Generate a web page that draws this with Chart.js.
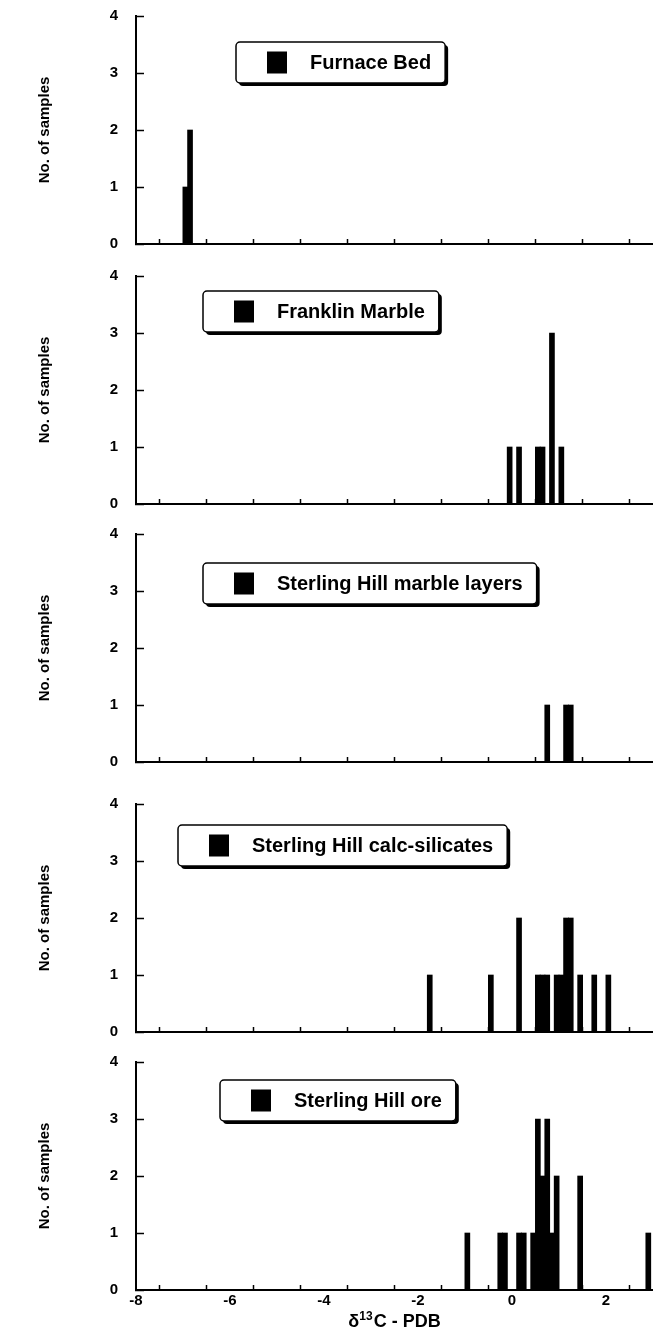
<!DOCTYPE html>
<html>
<head>
<meta charset="utf-8">
<title>d13C histograms</title>
<script src="https://cdn.jsdelivr.net/npm/chart.js@4.4.1/dist/chart.umd.min.js"></script>
<style>
  html, body { margin: 0; padding: 0; background: #fff; }
  body { width: 653px; height: 1341px; position: relative; overflow: hidden; }
  .panel { position: absolute; left: 0; width: 653px; }
</style>
</head>
<body>
<div class="panel" id="p0"><canvas id="c0"></canvas></div>
<div class="panel" id="p1"><canvas id="c1"></canvas></div>
<div class="panel" id="p2"><canvas id="c2"></canvas></div>
<div class="panel" id="p3"><canvas id="c3"></canvas></div>
<div class="panel" id="p4"><canvas id="c4"></canvas></div>
<script>
// Bin centres (0.1 permil bins) and number of samples per bin
const furnaceBins = [-6.95, -6.85];
const furnaceCounts = [1, 2];
const franklinBins = [-0.05, 0.15, 0.55, 0.65, 0.85, 1.05];
const franklinCounts = [1, 1, 1, 1, 3, 1];
const marbleBins = [0.75, 1.15, 1.25];
const marbleCounts = [1, 1, 1];
const calcBins = [-1.75, -0.45, 0.15, 0.55, 0.65, 0.75, 0.95, 1.05, 1.15, 1.25, 1.45, 1.75, 2.05];
const calcCounts = [1, 1, 2, 1, 1, 1, 1, 1, 2, 2, 1, 1, 1];
const oreBins = [-0.95, -0.25, -0.15, 0.15, 0.25, 0.45, 0.55, 0.65, 0.75, 0.85, 0.95, 1.45, 2.9];
const oreCounts = [1, 1, 1, 1, 1, 1, 3, 2, 3, 1, 2, 2, 1];

const panelNames = ['Furnace Bed', 'Franklin Marble', 'Sterling Hill marble layers',
    'Sterling Hill calc-silicates', 'Sterling Hill ore'];
const xTickLabels = ['-8', '-6', '-4', '-2', '0', '2'];
const yTickLabels = ['0', '1', '2', '3', '4'];
const yTitle = 'No. of samples';
const xTitle = ['δ', '13', 'C - PDB'];   // base, superscript, rest

// Layout (page pixels): top / bottom of each plot area, legend box offsets
const areaTop = [16, 276, 534, 804, 1062];
const areaBottom = [244, 504, 762, 1032, 1290];
const legendDx = [100, 67, 67, 42, 84];
const legendDy = [26, 15, 29, 21, 18];
const FONT = '"Liberation Sans", Arial, Helvetica, sans-serif';

// Legend box with a drop shadow, drawn inside the plot area
const boxLegend = {
    id: 'boxLegend',
    afterDraw(chart, args, opts) {
        const ctx = chart.ctx;
        const a = chart.chartArea;
        const text = chart.data.datasets[0].label;
        const x = a.left + opts.dx;
        const y = a.top + opts.dy;
        ctx.save();
        ctx.font = 'bold 20px ' + FONT;
        const w = 74 + ctx.measureText(text).width + 14;
        const h = 41;
        ctx.fillStyle = '#000';
        ctx.beginPath();
        ctx.roundRect(x + 3, y + 3, w, h, 4);
        ctx.fill();
        ctx.beginPath();
        ctx.roundRect(x, y, w, h, 4);
        ctx.fillStyle = '#fff';
        ctx.fill();
        ctx.lineWidth = 1.5;
        ctx.strokeStyle = '#000';
        ctx.stroke();
        ctx.fillStyle = '#000';
        ctx.fillRect(x + 31, y + h / 2 - 11, 20, 22);
        ctx.textBaseline = 'middle';
        ctx.textAlign = 'left';
        ctx.fillText(text, x + 74, y + h / 2 + 1);
        ctx.restore();
    }
};

// x axis title with a real superscript (only on the bottom panel)
const supTitle = {
    id: 'supTitle',
    afterDraw(chart, args, opts) {
        if (!opts.show) return;
        const ctx = chart.ctx;
        const a = chart.chartArea;
        const big = 'bold 18px ' + FONT;
        const small = 'bold 12px ' + FONT;
        ctx.save();
        ctx.fillStyle = '#000';
        ctx.textBaseline = 'alphabetic';
        ctx.textAlign = 'left';
        ctx.font = big;
        const w0 = ctx.measureText(xTitle[0]).width;
        const w2 = ctx.measureText(xTitle[2]).width;
        ctx.font = small;
        const w1 = ctx.measureText(xTitle[1]).width + 1;
        let x = (a.left + a.right) / 2 - (w0 + w1 + w2) / 2;
        const base = chart.height - 14;
        ctx.font = big;
        ctx.fillText(xTitle[0], x, base);
        x += w0;
        ctx.font = small;
        ctx.fillText(xTitle[1], x, base - 7);
        x += w1;
        ctx.font = big;
        ctx.fillText(xTitle[2], x, base);
        ctx.restore();
    }
};

function makePanel(i, bins, counts) {
    const last = i === 4;
    const xh = last ? 51 : 10;
    const wrap = document.getElementById('p' + i);
    wrap.style.top = (areaTop[i] - 16) + 'px';
    wrap.style.height = (areaBottom[i] - areaTop[i] + 16 + xh) + 'px';

    const ctx = document.getElementById('c' + i).getContext('2d');
    return new Chart(ctx, {
        type: 'bar',
        data: {
            datasets: [{
                label: panelNames[i],
                data: bins.map((b, k) => ({ x: b, y: counts[k] })),
                backgroundColor: '#000',
                borderWidth: 0,
                barThickness: 5
            }]
        },
        options: {
            responsive: true,
            maintainAspectRatio: false,
            animation: false,
            layout: { padding: { top: 16, left: 0, right: 0, bottom: 0 } },
            plugins: {
                legend: { display: false },
                tooltip: { enabled: false },
                boxLegend: { dx: legendDx[i], dy: legendDy[i] },
                supTitle: { show: last }
            },
            scales: {
                x: {
                    type: 'linear',
                    min: -8,
                    max: 3,
                    offset: false,
                    afterFit: function(s) {
                        s.height = xh;
                        s.paddingLeft = 0;
                        s.paddingRight = 0;
                    },
                    grid: { drawOnChartArea: false, tickLength: -5, tickWidth: 1.5, tickColor: '#000' },
                    border: { color: '#000', width: 2 },
                    ticks: {
                        stepSize: 1,
                        autoSkip: false,
                        maxRotation: 0,
                        padding: 7,
                        color: '#000',
                        font: { family: FONT, size: 15, weight: 'bold' },
                        callback: function(v) {
                            const s = String(v);
                            return last && xTickLabels.includes(s) ? s : '';
                        }
                    }
                },
                y: {
                    min: 0,
                    max: 4,
                    afterFit: function(s) {
                        s.width = 136;
                        s.paddingTop = 0;
                        s.paddingBottom = 0;
                    },
                    grid: { drawOnChartArea: false, tickLength: -8, tickWidth: 1.5, tickColor: '#000' },
                    border: { color: '#000', width: 2 },
                    ticks: {
                        stepSize: 1,
                        padding: 26,
                        color: '#000',
                        font: { family: FONT, size: 15, weight: 'bold' },
                        callback: function(v) { return yTickLabels[v]; }
                    },
                    title: {
                        display: true,
                        text: yTitle,
                        color: '#000',
                        font: { family: FONT, size: 15, weight: 'bold' },
                        padding: { top: 36, bottom: 0 }
                    }
                }
            }
        },
        plugins: [boxLegend, supTitle]
    });
}

document.addEventListener('DOMContentLoaded', function() {
    makePanel(0, furnaceBins, furnaceCounts);
    makePanel(1, franklinBins, franklinCounts);
    makePanel(2, marbleBins, marbleCounts);
    makePanel(3, calcBins, calcCounts);
    makePanel(4, oreBins, oreCounts);
});
</script>
</body>
</html>
